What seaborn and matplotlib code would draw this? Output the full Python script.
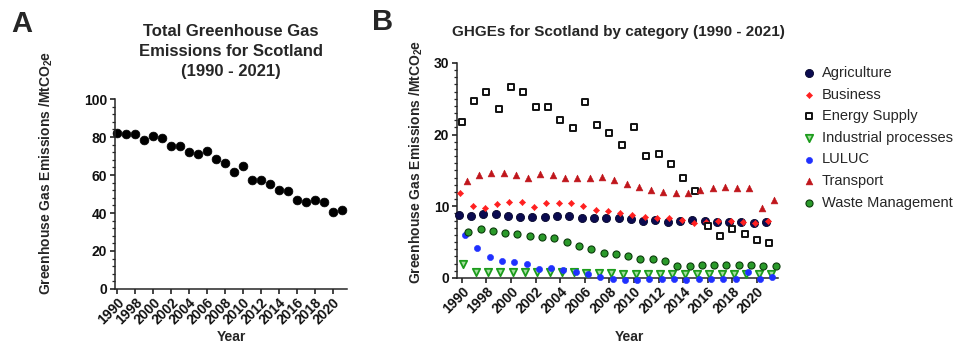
# ============================================================
# Scotland greenhouse gas emissions 1990 - 2021
# Panel A: total, Panel B: by category
# ============================================================

import pandas as pd
import matplotlib
matplotlib.use("Agg")
import matplotlib.pyplot as plt
from matplotlib.ticker import AutoMinorLocator, MultipleLocator, FixedLocator
import seaborn as sns

# ============================================================
# DATA (MtCO2e)
# ============================================================

YEARS = ["1990", "1995", "1998", "1999", "2000", "2001", "2002", "2003",
         "2004", "2005", "2006", "2007", "2008", "2009", "2010", "2011",
         "2012", "2013", "2014", "2015", "2016", "2017", "2018", "2019",
         "2020", "2021"]

TICK_LABELS = ["1990", "1998", "2000", "2002", "2004", "2006", "2008",
               "2010", "2012", "2014", "2016", "2018", "2020"]

TOTAL = [82.1, 81.4, 81.6, 78.6, 80.5, 79.3, 75.1, 75.1, 72.3, 70.9,
         72.8, 68.4, 66.1, 61.6, 64.6, 57.4, 57.5, 55.3, 52.1, 51.6,
         46.9, 45.8, 46.9, 46.0, 40.7, 41.7]

AGRICULTURE = [8.8, 8.7, 8.9, 8.9, 8.7, 8.5, 8.5, 8.5, 8.6, 8.7, 8.4, 8.4, 8.3,
               8.3, 8.2, 8.0, 8.1, 7.8, 8.0, 8.1, 7.9, 7.8, 7.8, 7.8, 7.7, 7.8]
BUSINESS = [11.8, 10.1, 9.7, 10.3, 10.6, 10.6, 9.9, 10.4, 10.4, 10.4, 10.1, 9.5, 9.4,
            9.0, 8.8, 8.5, 8.4, 8.4, 8.1, 7.6, 7.8, 7.9, 7.9, 7.8, 7.7, 7.9]
ENERGY_SUPPLY = [21.7, 24.7, 26.0, 23.6, 26.6, 25.9, 23.8, 23.8, 22.0, 20.9, 24.6, 21.4, 20.2,
                 18.6, 21.0, 17.0, 17.3, 15.9, 13.9, 12.2, 7.2, 5.8, 6.8, 6.2, 5.3, 4.9]
INDUSTRIAL = [1.9, 0.8, 0.8, 0.8, 0.8, 0.8, 0.8, 0.8, 0.8, 0.8, 0.7, 0.7, 0.7,
              0.6, 0.6, 0.6, 0.6, 0.6, 0.6, 0.6, 0.6, 0.6, 0.6, 0.6, 0.5, 0.6]
LULUC = [6.0, 4.2, 2.9, 2.4, 2.2, 1.9, 1.3, 1.4, 1.1, 0.9, 0.5, 0.2, -0.2,
         -0.3, -0.3, -0.1, -0.2, -0.1, -0.3, -0.2, -0.2, -0.2, -0.2, 0.9, -0.1, 0.1]
TRANSPORT = [13.5, 14.4, 14.6, 14.7, 14.3, 14.0, 14.5, 14.3, 14.0, 14.0, 14.0, 14.1, 13.6,
             13.1, 12.7, 12.3, 12.0, 11.8, 11.9, 12.3, 12.6, 12.7, 12.6, 12.5, 9.8, 10.9]
WASTE = [6.4, 6.8, 6.6, 6.3, 6.2, 5.8, 5.7, 5.6, 5.0, 4.4, 4.0, 3.5, 3.3,
         3.0, 2.7, 2.6, 2.3, 1.6, 1.7, 1.8, 1.8, 1.8, 1.8, 1.8, 1.6, 1.7]

CATEGORIES = ["Agriculture", "Business", "Energy Supply", "Industrial processes",
              "LULUC", "Transport", "Waste Management"]
CATEGORY_VALUES = [AGRICULTURE, BUSINESS, ENERGY_SUPPLY, INDUSTRIAL,
                   LULUC, TRANSPORT, WASTE]

# ============================================================
# CONFIGURATION
# ============================================================

OUTPUT_FILE = "out.png"
YLABEL = r"Greenhouse Gas Emissions /MtCO$_\mathbf{2}$e"

# marker style per category: marker, size, face, edge, edge width
STYLES = {
    "Agriculture":          ("o", 34, "#0b0b50", "#05052a", 0.6),
    "Business":             ("D", 10, "#ff2020", "#ff2020", 0.4),
    "Energy Supply":        ("s", 25, "white",   "#111111", 1.4),
    "Industrial processes": ("v", 28, "#a6e0a0", "#1c9c1c", 1.3),
    "LULUC":                ("o", 20, "#1f30ff", "#1f30ff", 0.4),
    "Transport":            ("^", 24, "#c0161c", "#c0161c", 0.4),
    "Waste Management":     ("o", 26, "#2a9a2a", "#0c3c0c", 0.8),
}
DODGE_STEP = 0.13   # small sideways shift between the category series

sns.set_theme(style="ticks")
plt.rcParams["font.family"] = ["Liberation Sans", "DejaVu Sans"]
plt.rcParams["mathtext.fontset"] = "custom"
plt.rcParams["mathtext.rm"] = "Liberation Sans"
plt.rcParams["mathtext.bf"] = "Liberation Sans:bold"
plt.rcParams["axes.linewidth"] = 1.1
plt.rcParams["xtick.major.width"] = 1.1
plt.rcParams["ytick.major.width"] = 1.1
plt.rcParams["ytick.minor.width"] = 0.9
plt.rcParams["xtick.major.size"] = 3.5
plt.rcParams["ytick.major.size"] = 3.5
plt.rcParams["ytick.minor.size"] = 2.0


def style_axis(ax, ymax, ystep, minor):
    sns.despine(ax=ax)
    ax.set_ylim(0, ymax)
    ax.yaxis.set_major_locator(MultipleLocator(ystep))
    ax.yaxis.set_minor_locator(AutoMinorLocator(minor))
    ax.xaxis.set_major_locator(FixedLocator(range(0, len(YEARS) - 1, 2)))
    ax.set_xticklabels(TICK_LABELS, rotation=45, ha="right",
                       rotation_mode="anchor", fontsize=10, fontweight="bold")
    for lab in ax.get_yticklabels():
        lab.set_fontsize(10)
        lab.set_fontweight("bold")
    ax.tick_params(axis="both", colors="#111111", pad=2)
    ax.tick_params(axis="x", pad=1)
    ax.set_xlabel("Year", fontsize=10, fontweight="bold")
    ax.set_ylabel(YLABEL, fontsize=10, fontweight="bold")


# ============================================================
# PANEL A: TOTAL EMISSIONS
# ============================================================

def plot_total(fig):
    ax = fig.add_axes([0.1204, 0.160, 0.243, 0.552])
    df = pd.DataFrame({"Year": YEARS, "Emissions": TOTAL})
    df["pos"] = range(len(df))

    sns.scatterplot(data=df, x="pos", y="Emissions", ax=ax, marker="o",
                    s=40, color="black", edgecolor="black", linewidth=0.5,
                    clip_on=False, legend=False)

    ax.set_xlim(-0.25, len(YEARS) - 0.4)
    style_axis(ax, 100, 20, 5)
    ax.yaxis.set_label_coords(-0.259, 0.61)
    ax.xaxis.set_label_coords(0.5, -0.216)

    fig.text(231 / 955, 1 - 51.5 / 344,
             "Total Greenhouse Gas\nEmissions for Scotland\n(1990 - 2021)",
             ha="center", va="center", fontsize=12, fontweight="bold",
             linespacing=1.45, multialignment="center")
    fig.text(22 / 955, 1 - 24 / 344, "A", ha="center", va="center",
             fontsize=21, fontweight="bold")


# ============================================================
# PANEL B: EMISSIONS BY CATEGORY
# ============================================================

def plot_categories(fig):
    ax = fig.add_axes([0.4785, 0.192, 0.336, 0.625])

    frames = []
    for idx, (name, values) in enumerate(zip(CATEGORIES, CATEGORY_VALUES)):
        part = pd.DataFrame({"Year": YEARS, "Emissions": values, "Category": name})
        part["pos"] = [i + (idx - 2) * DODGE_STEP for i in range(len(YEARS))]
        frames.append(part)
    df = pd.concat(frames, ignore_index=True)

    for name in CATEGORIES:
        marker, size, face, edge, lw = STYLES[name]
        sns.scatterplot(data=df[df["Category"] == name], x="pos", y="Emissions",
                        ax=ax, marker=marker, s=size, color=face,
                        edgecolor=edge, linewidth=lw, clip_on=False,
                        label=name, zorder=3)

    ax.set_xlim(-0.4, len(YEARS) - 0.3)
    style_axis(ax, 30, 10, 10)
    ax.yaxis.set_label_coords(-0.10, 0.54)
    ax.xaxis.set_label_coords(0.539, -0.242)

    ax.legend(loc="upper left", bbox_to_anchor=(803 / 955, 1 - 66 / 344),
              bbox_transform=fig.transFigure, frameon=False, fontsize=10.5,
              handlelength=0.8, handletextpad=0.5, labelspacing=0.52,
              borderpad=0, borderaxespad=0, markerscale=1.0)

    fig.text(618 / 955, 1 - 32 / 344,
             "GHGEs for Scotland by category (1990 - 2021)",
             ha="center", va="center", fontsize=11, fontweight="bold")
    fig.text(383 / 955, 1 - 22 / 344, "B", ha="center", va="center",
             fontsize=21, fontweight="bold")


def main():
    fig = plt.figure(figsize=(9.55, 3.44), dpi=100)
    plot_total(fig)
    plot_categories(fig)
    fig.savefig(OUTPUT_FILE, dpi=100, facecolor="white")
    plt.close(fig)


if __name__ == "__main__":
    main()
